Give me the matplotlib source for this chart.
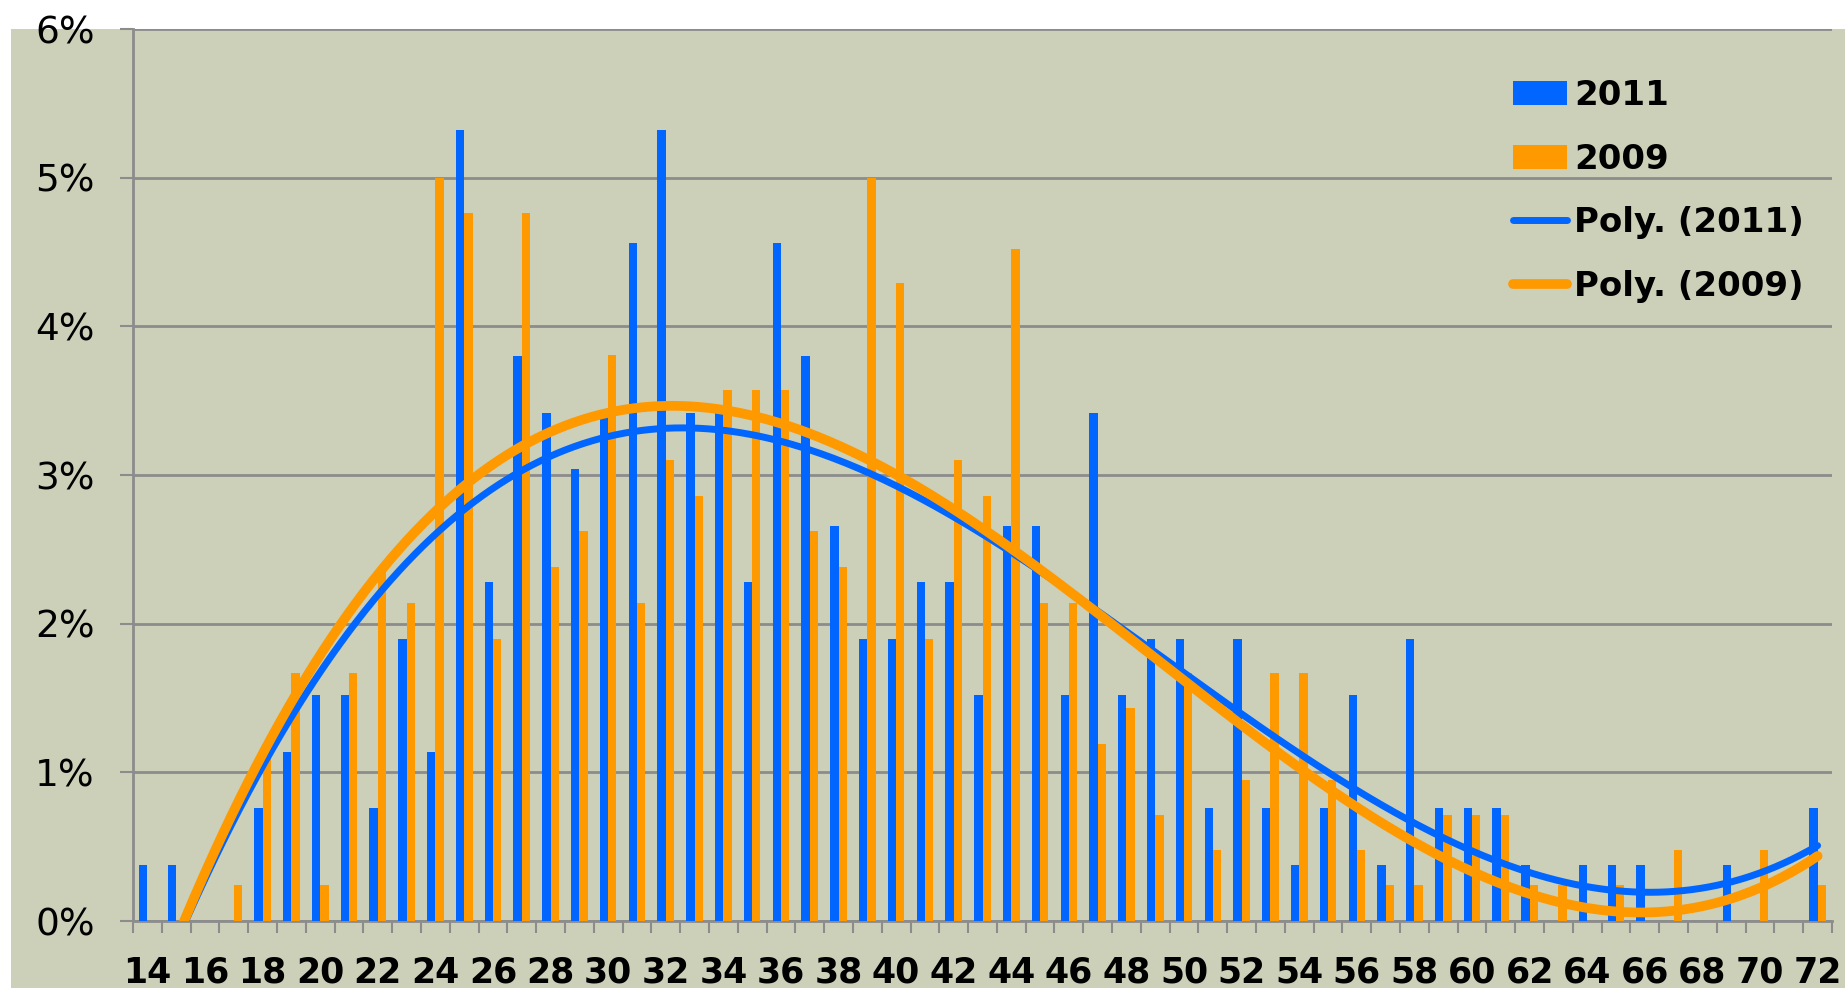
import numpy as np
import matplotlib
matplotlib.use("Agg")
import matplotlib.pyplot as plt
from matplotlib.patches import Rectangle
from matplotlib.ticker import FixedLocator, FuncFormatter

ages = list(range(14, 73))

# share of respondents by age (%)
share_2011 = [0.38, 0.38, 0, 0, 0.76, 1.14, 1.52, 1.52, 0.76, 1.90,
              1.14, 5.32, 2.28, 3.80, 3.42, 3.04, 3.42, 4.56, 5.32, 3.42,
              3.42, 2.28, 4.56, 3.80, 2.66, 1.90, 1.90, 2.28, 2.28, 1.52,
              2.66, 2.66, 1.52, 3.42, 1.52, 1.90, 1.90, 0.76, 1.90, 0.76,
              0.38, 0.76, 1.52, 0.38, 1.90, 0.76, 0.76, 0.76, 0.38, 0,
              0.38, 0.38, 0.38, 0, 0, 0.38, 0, 0, 0.76]
share_2009 = [0, 0, 0, 0.24, 1.19, 1.67, 0.24, 1.67, 2.38, 2.14,
              5.00, 4.76, 1.90, 4.76, 2.38, 2.62, 3.81, 2.14, 3.10, 2.86,
              3.57, 3.57, 3.57, 2.62, 2.38, 5.00, 4.29, 1.90, 3.10, 2.86,
              4.52, 2.14, 2.14, 1.19, 1.43, 0.71, 1.67, 0.48, 0.95, 1.67,
              1.67, 0.95, 0.48, 0.24, 0.24, 0.71, 0.71, 0.71, 0.24, 0.24,
              0, 0.24, 0, 0.48, 0, 0, 0.48, 0, 0.24]

BLUE = "#0066ff"
ORANGE = "#ff9900"
BG = "#ccd0b8"
GRID = "#8c8c8c"

W, H = 1845, 988
fig = plt.figure(figsize=(W / 100, H / 100), dpi=100)
fig.patch.set_facecolor("white")
# coloured chart area (white strip at the top and a thin one on the left)
fig.patches.append(Rectangle((11 / W, 0), 1, 1 - 29 / H, transform=fig.transFigure,
                             facecolor=BG, edgecolor="none", zorder=-10))

ax = fig.add_axes([133 / W, 1 - 921 / H, (1832 - 133) / W, (921 - 29) / H])
ax.set_facecolor(BG)

x = np.array(ages, dtype=float)
bw = 0.29
ax.bar(x, share_2011, width=-bw, align="edge", color=BLUE, label="2011", zorder=3)
ax.bar(x, share_2009, width=bw, align="edge", color=ORANGE, label="2009", zorder=3)

# polynomial trendlines (order 3)
xs = np.linspace(14, 72, 400)
p11 = np.polyval(np.polyfit(x, share_2011, 3), xs)
p09 = np.polyval(np.polyfit(x, share_2009, 3), xs)
ax.plot(xs, p11, color=BLUE, lw=5, solid_capstyle="round", label="Poly. (2011)", zorder=4)
ax.plot(xs, p09, color=ORANGE, lw=7, solid_capstyle="round", label="Poly. (2009)", zorder=5)

ax.set_xlim(13.5, 72.5)
ax.set_ylim(0, 6)

ax.set_yticks(range(0, 7))
ax.yaxis.set_major_formatter(FuncFormatter(lambda v, p: "%d%%" % v))
ax.grid(axis="y", color=GRID, lw=2, zorder=1)
ax.set_axisbelow(True)
ax.tick_params(axis="y", length=9.5, width=1.5, color=GRID, pad=18, labelsize=27)

ax.xaxis.set_major_locator(FixedLocator(range(14, 73, 2)))
ax.xaxis.set_minor_locator(FixedLocator(np.arange(13.5, 73, 1)))
ax.tick_params(axis="x", which="major", length=0, pad=25, labelsize=25)
ax.tick_params(axis="x", which="minor", length=8.5, width=1.5, color=GRID)
for lab in ax.get_xticklabels():
    lab.set_fontweight("bold")

for s in ["top", "right"]:
    ax.spines[s].set_visible(False)
for s in ["left", "bottom"]:
    ax.spines[s].set_color(GRID)
    ax.spines[s].set_linewidth(2)

handles, labels = ax.get_legend_handles_labels()
idx = [2, 3, 0, 1]
ax.legend([handles[i] for i in idx], [labels[i] for i in idx],
          loc="upper left", bbox_to_anchor=(1513 / W, 1 - 79 / H),
          bbox_transform=fig.transFigure, frameon=False, borderpad=0,
          borderaxespad=0, handlelength=1.6, handletextpad=0.2,
          labelspacing=0.9, prop={"size": 24.5, "weight": "bold"})

fig.savefig("out.png", dpi=100, facecolor=fig.get_facecolor())
